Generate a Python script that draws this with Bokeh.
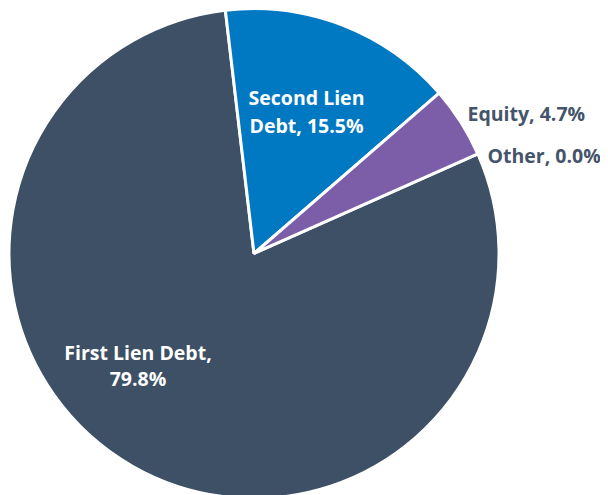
import math
from bokeh.plotting import figure
from bokeh.models import Range1d, ColumnDataSource
from bokeh.core.properties import value
from bokeh.embed import file_html
from bokeh.resources import INLINE

# ---- data ----
categories = ["First Lien Debt", "Second Lien Debt", "Equity", "Other"]
shares = [79.8, 15.5, 4.7, 0.0]
colors = ["#3D5065", "#0079C2", "#7B5EA7", "#A5A5A5"]

# ---- style / layout ----
W, H = 600, 495
first_slice_deg = 66  # clockwise from 12 o'clock
cx, cy, R = 253.5, -253, 245

p = figure(width=W, height=H, output_backend="svg", toolbar_location=None,
           x_range=Range1d(0, W), y_range=Range1d(-H, 0), min_border=0)
p.axis.visible = False
p.grid.visible = False
p.outline_line_color = None
p.background_fill_color = "white"
p.border_fill_color = "white"

total = sum(shares)
starts, ends, cols, cats = [], [], [], []
acc = first_slice_deg
for c, s, col in zip(categories, shares, colors):
    a0 = acc
    a1 = acc + s / total * 360.0
    acc = a1
    if s <= 0:
        continue
    starts.append(math.radians(90 - a0))
    ends.append(math.radians(90 - a1))
    cols.append(col)
    cats.append(c)

src = ColumnDataSource(dict(start=starts, end=ends, color=cols, cat=cats))
p.wedge(x=cx, y=cy, radius=R, start_angle="start", end_angle="end",
        direction="clock", fill_color="color", line_color="white",
        line_width=3, source=src)

font = value("Open Sans")
fs = "19.5px"
label_txt = [f"{c}, {v:.1f}%" for c, v in zip(categories, shares)]

# inside labels (white, centered, two lines)
inside = [
    (["First Lien Debt,", f"{shares[0]:.1f}%"], 137.5, [-352, -378]),
    (["Second Lien", f"Debt, {shares[1]:.1f}%"], 306, [-97, -125]),
]
for lines, x, ys in inside:
    p.text(x=[x] * len(lines), y=ys, text=lines, text_color="white",
           text_font=font, text_font_style="bold", text_font_size=fs,
           text_align="center", text_baseline="alphabetic")

# outside labels (dark)
outside = [(label_txt[2], 467, -113), (label_txt[3], 487, -155)]
for t, x, y in outside:
    p.text(x=[x], y=[y], text=[t], text_color="#44546A",
           text_font=font, text_font_style="bold", text_font_size=fs,
           text_align="left", text_baseline="alphabetic")

open("out.html", "w").write(file_html(p, INLINE))
